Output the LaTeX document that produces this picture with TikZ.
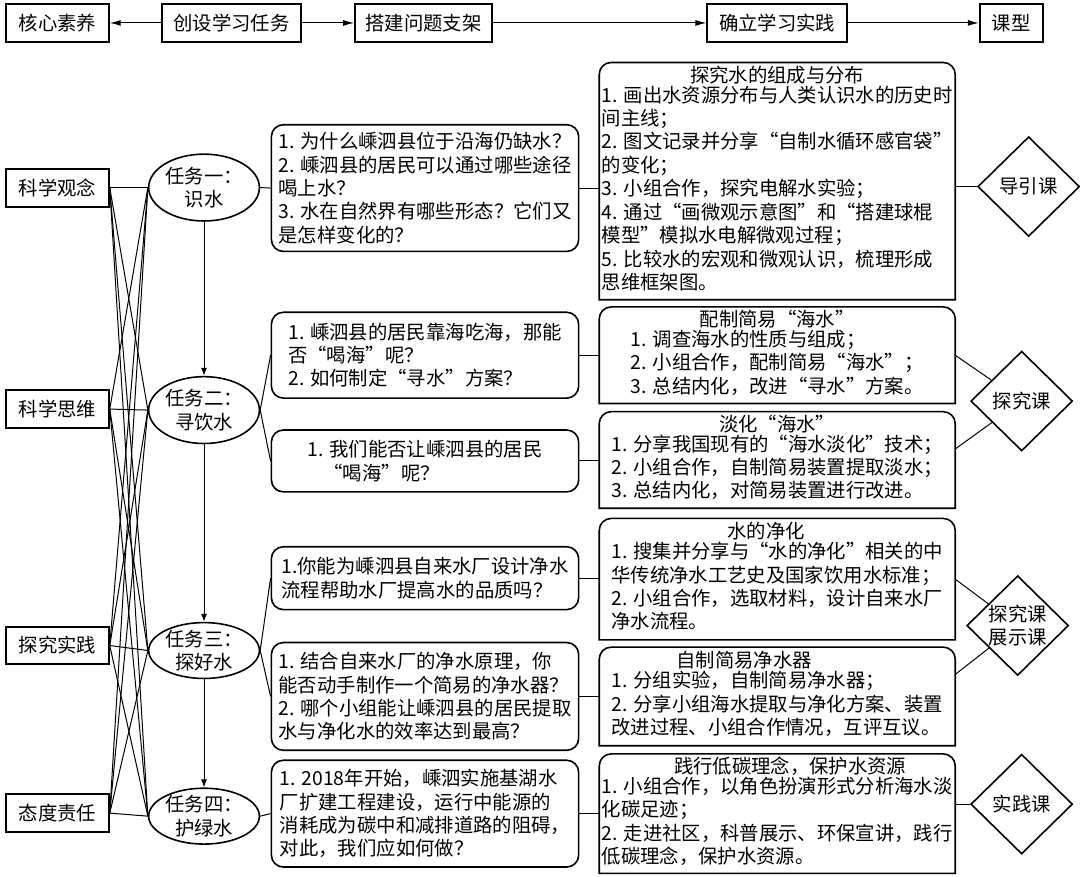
\documentclass[tikz,border=0pt]{standalone}
\usepackage{fontspec}
\setmainfont{Noto Sans CJK SC}
\usepackage{tikz}
\usetikzlibrary{arrows.meta, shapes.geometric, positioning}

\begin{document}
\begin{tikzpicture}[
    x=0.5pt, y=-0.5pt,
    every node/.style={font=\fontsize{9.7pt}{11.7pt}\selectfont},
    headbox/.style={draw, rectangle, line width=1pt, minimum height=19pt, inner sep=1pt},
    corebox/.style={draw, rectangle, line width=1pt, minimum width=51.5pt, minimum height=19pt, inner sep=1pt},
    taskell/.style={draw, ellipse, line width=0.8pt, minimum width=55.5pt, minimum height=33.5pt, inner sep=0pt, align=center},
    quest/.style={draw, rectangle, rounded corners=6pt, line width=0.8pt, minimum width=154pt, inner sep=2pt, align=left},
    actbox/.style={rectangle, minimum width=178pt, inner sep=1pt, align=center},
    boxline/.style={line width=0.8pt},
    kind/.style={draw, diamond, line width=0.8pt, minimum width=51pt, minimum height=50pt, inner sep=0pt, align=center},
    link/.style={line width=0.5pt},
    arrow/.style={link, -{Latex[length=4pt,width=3pt]}},
    headarrow/.style={link, -{Latex[length=5.5pt,width=3pt]}}
]
\fill[white] (0,0) rectangle (1080,878);

% top row
\node (hcore) [headbox, minimum width=51.5pt] at (57.5,23) {核心素养};
\node (htask) [headbox, minimum width=70pt] at (232,23) {创设学习任务};
\node (hframe) [headbox, minimum width=68.5pt] at (424.5,23) {搭建问题支架};
\node (hprac) [headbox, minimum width=70pt] at (779,23) {确立学习实践};
\node (htype) [headbox, minimum width=31.5pt] at (1013.5,23) {课型};

\draw [headarrow, {Latex[length=5.5pt,width=3pt]}-] (hcore) -- (htask);
\draw [headarrow] (htask) -- (hframe);
\draw [headarrow] (hframe) -- (hprac);
\draw [headarrow] (hprac) -- (htype);

% core literacy
\node (sci) [corebox] at (57.5,188) {科学观念};
\node (think) [corebox] at (57.5,410) {科学思维};
\node (inq) [corebox] at (57.5,647) {探究实践};
\node (resp) [corebox] at (57.5,815) {态度责任};

% tasks
\node (t1) [taskell] at (204.5,188) {任务一：\\识水};
\node (t2) [taskell] at (204.5,411) {任务二：\\寻饮水};
\node (t3) [taskell, minimum height=28pt, inner ysep=-3pt] at (204.5,652) {任务三：\\探好水};
\node (t4) [taskell, minimum height=28pt, inner ysep=-3pt] at (204.5,818) {任务四：\\护绿水};

\foreach \c in {sci,think,inq,resp}
    \foreach \t in {t1,t2,t3,t4}
        \draw [link] (\c.east) -- (\t.west);

\draw [arrow] (t1) -- (t2);
\draw [arrow] (t2) -- (t3);
\draw [arrow] (t3) -- (t4);

% questions
\node (q1) [quest, minimum height=63.5pt] at (426,188.5) {1. 为什么嵊泗县位于沿海仍缺水？\\2. 嵊泗县的居民可以通过哪些途径\\喝上水？\\3. 水在自然界有哪些形态？它们又\\是怎样变化的？};
\node (q2a) [quest, minimum height=43pt] at (426,356) {1. 嵊泗县的居民靠海吃海，那能\\否“喝海”呢？\\2. 如何制定“寻水”方案？};
\node (q2b) [quest, minimum height=31pt] at (426,462) {1. 我们能否让嵊泗县的居民\\\hspace*{8pt}“喝海”呢？};
\node (q3a) [quest, minimum height=31.5pt] at (426,579.5) {1.你能为嵊泗县自来水厂设计净水\\流程帮助水厂提高水的品质吗？};
\node (q3b) [quest, minimum height=54pt] at (426,698) {1. 结合自来水厂的净水原理，你\\能否动手制作一个简易的净水器？\\2. 哪个小组能让嵊泗县的居民提取\\水与净化水的效率达到最高？};
\node (q4) [quest, minimum height=53.5pt] at (426,815.5) {1. 2018年开始，嵊泗实施基湖水\\厂扩建工程建设，运行中能源的\\消耗成为碳中和减排道路的阻碍，\\对此，我们应如何做？};

\draw [link] (t1.east) -- (q1.west);
\draw [link] (t2.east) -- (q2a.west);
\draw [link] (t2.east) -- (q2b.west);
\draw [link] (t3.east) -- (q3a.west);
\draw [link] (t3.east) -- (q3b.west);
\draw [link] (t4.east) -- (q4.west);

% practice
\node (a1) [actbox, minimum height=118.5pt] at (779,181.5) {探究水的组成与分布\\\begin{tabular}{@{}l@{}}1. 画出水资源分布与人类认识水的历史时\\间主线；\\2. 图文记录并分享“自制水循环感官袋”\\的变化；\\3. 小组合作，探究电解水实验；\\4. 通过“画微观示意图”和“搭建球棍\\模型”模拟水电解微观过程；\\5. 比较水的宏观和微观认识，梳理形成\\思维框架图。\end{tabular}};
\node (a2) [actbox, minimum height=48pt] at (779,356) {配制简易“海水”\\\begin{tabular}{@{}l@{}}1. 调查海水的性质与组成；\\2. 小组合作，配制简易“海水”；\\3. 总结内化，改进“寻水”方案。\end{tabular}};
\node (a3) [actbox, minimum height=48pt] at (779,461) {淡化“海水”\\\begin{tabular}{@{}l@{}}1. 分享我国现有的“海水淡化”技术；\\2. 小组合作，自制简易装置提取淡水；\\3. 总结内化，对简易装置进行改进。\end{tabular}};
\node (a4) [actbox, minimum height=60.5pt] at (779,580.5) {\hspace*{-11pt}水的净化\\\begin{tabular}{@{}l@{}}1. 搜集并分享与“水的净化”相关的中\\华传统净水工艺史及国家饮用水标准；\\2. 小组合作，选取材料，设计自来水厂\\净水流程。\end{tabular}};
\node (a5) [actbox, minimum height=49pt] at (779,698) {\hspace*{-33pt}自制简易净水器\\\begin{tabular}{@{}l@{}}1. 分组实验，自制简易净水器；\\2. 分享小组海水提取与净化方案、装置\\改进过程、小组合作情况，互评互议。\end{tabular}};
\node (a6) [actbox, minimum height=59.5pt] at (779,815.5) {\hspace*{13pt}践行低碳理念，保护水资源\\\begin{tabular}{@{}l@{}}1. 小组合作，以角色扮演形式分析海水淡\\化碳足迹；\\2. 走进社区，科普展示、环保宣讲，践行\\低碳理念，保护水资源。\end{tabular}};

\foreach \b in {a1,a2,a3,a4,a5,a6}
    \draw [boxline] (\b.south west) [rounded corners=6pt] -- (\b.north west) -- (\b.north east) [sharp corners] -- (\b.south east) -- cycle;

\draw [link] (q1.east) -- (q1.east -| a1.west);
\draw [link] (q2a.east) -- (q2a.east -| a2.west);
\draw [link] (q2b.east) -- (q2b.east -| a3.west);
\draw [link] (q3a.east) -- (q3a.east -| a4.west);
\draw [link] (q3b.east) -- (q3b.east -| a5.west);
\draw [link] (q4.east) -- (q4.east -| a6.west);

% lesson types
\node (k1) [kind] at (1031,187) {导引课};
\node (k2) [kind] at (1024,402) {探究课};
\node (k3) [kind] at (1020,627) {探究课\\展示课};
\node (k4) [kind] at (1024,806) {实践课};

\draw [link] (a1.east |- k1) -- (k1);
\draw [link] (a2.east) -- (k2);
\draw [link] ([yshift=5.5pt]a3.east) -- (k2);
\draw [link] (a4.east) -- (k3);
\draw [link] ([yshift=11pt]a5.east) -- (k3);
\draw [link] (a6.east |- k4) -- (k4);

\end{tikzpicture}
\end{document}
